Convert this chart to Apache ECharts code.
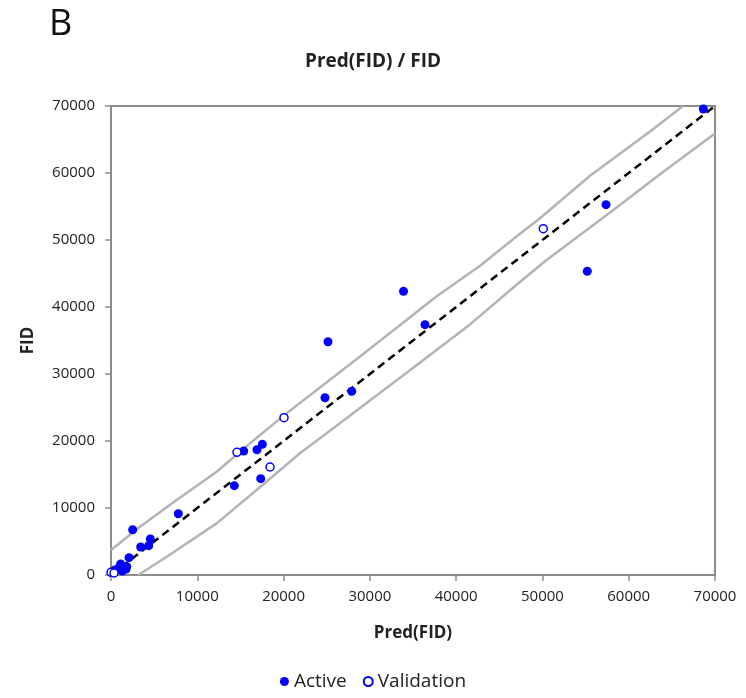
<!DOCTYPE html>
<html>
<head>
<meta charset="utf-8">
<script src="https://cdn.jsdelivr.net/npm/echarts@6/dist/echarts.min.js"></script>
<style>
  html, body { margin: 0; padding: 0; background: #fff; }
  #chart { width: 746px; height: 698px; }
</style>
</head>
<body>
<div id="chart"></div>
<script>
// 数据: [Pred(FID), FID]
const activePoints = [
  [68650, 69550], [57370, 55270], [55200, 45330], [33900, 42340], [36390, 37360],
  [25150, 34820], [27900, 27420], [24800, 26460], [17540, 19500], [16920, 18700],
  [15380, 18510], [17350, 14380], [14290, 13330], [7800, 9150], [2510, 6760],
  [4560, 5370], [4370, 4380], [3440, 4180], [2090, 2590], [1120, 1640],
  [1820, 1240], [1740, 900], [850, 1000], [460, 750], [270, 500], [1310, 600]
];
const validationPoints = [
  [50100, 51690], [20050, 23480], [14600, 18310], [18430, 16120], [0, 400], [350, 300]
];
// 置信带 upper / lower
const upperBand = [
  [0, 3730], [3360, 7210], [7610, 11190], [12240, 15420], [16110, 19650],
  [20360, 24130], [28860, 32600], [37750, 41600], [42770, 46160], [47210, 50750],
  [49720, 53240], [55520, 59600], [62470, 66200], [66300, 70000]
];
const lowerBand = [
  [3160, 0], [6460, 2730], [12240, 7710], [16880, 12690], [21900, 18160],
  [24220, 20400], [33880, 29800], [41610, 37400], [47210, 43540], [50490, 47010],
  [58220, 54480], [64010, 60190], [70000, 65900]
];
const identityLine = [[0, 0], [70000, 70000]];
const axisTicks = [0, 10000, 20000, 30000, 40000, 50000, 60000, 70000];

const blue = '#0000ff';
const axisGray = '#8c8c8c';
const font = 'Open Sans';

const chart = echarts.init(document.getElementById('chart'));

const axisCommon = {
  type: 'value',
  min: axisTicks[0],
  max: axisTicks[axisTicks.length - 1],
  interval: axisTicks[1] - axisTicks[0],
  splitLine: { show: false },
  axisLine: { show: true, onZero: false, lineStyle: { color: axisGray, width: 2 } },
  axisTick: { show: true, length: 6, lineStyle: { color: axisGray, width: 1.5 } },
  axisLabel: {
    color: '#222', fontSize: 15, fontFamily: font,
    formatter: function (val) { return String(val); }
  },
  nameTextStyle: { color: '#222', fontSize: 17, fontWeight: 'bold', fontFamily: font }
};

chart.setOption({
  animation: false,
  backgroundColor: '#fff',
  title: [
    {
      text: 'B', left: 44, top: 2,
      textStyle: { fontSize: 36, fontWeight: 'normal', color: '#111', fontFamily: font }
    },
    {
      text: 'Pred(FID) / FID', left: 'center', top: 47,
      textStyle: { fontSize: 19, fontWeight: 'bold', color: '#222', fontFamily: font }
    }
  ],
  grid: {
    left: 111, right: 31, top: 106, bottom: 123,
    show: true, borderColor: axisGray, borderWidth: 2, backgroundColor: '#fff'
  },
  legend: {
    bottom: 2,
    left: 'center',
    itemWidth: 9,
    itemHeight: 9,
    itemGap: 16,
    textStyle: { fontSize: 19, color: '#222', fontFamily: font },
    data: [{ name: 'Active', icon: 'circle' }, { name: 'Validation', icon: 'circle' }]
  },
  xAxis: Object.assign({}, axisCommon, {
    name: 'Pred(FID)', nameLocation: 'middle', nameGap: 50,
    axisLabel: Object.assign({}, axisCommon.axisLabel, { margin: 14 })
  }),
  yAxis: Object.assign({}, axisCommon, {
    name: 'FID', nameLocation: 'middle', nameGap: 74,
    axisLabel: Object.assign({}, axisCommon.axisLabel, { margin: 16 })
  }),
  series: [
    {
      name: 'upper', type: 'line', data: upperBand, showSymbol: false, silent: true,
      lineStyle: { color: '#b4b4b4', width: 2.5 }, z: 1
    },
    {
      name: 'lower', type: 'line', data: lowerBand, showSymbol: false, silent: true,
      lineStyle: { color: '#b4b4b4', width: 2.5 }, z: 1
    },
    {
      name: 'identity', type: 'line', data: identityLine, showSymbol: false, silent: true,
      lineStyle: { color: '#000', width: 2.5, type: [8, 5] }, z: 2
    },
    {
      name: 'Active', type: 'scatter', data: activePoints,
      symbol: 'circle', symbolSize: 9,
      itemStyle: { color: blue, opacity: 1 }, z: 3
    },
    {
      name: 'Validation', type: 'scatter', data: validationPoints,
      symbol: 'circle', symbolSize: 8,
      itemStyle: { color: '#fff', borderColor: blue, borderWidth: 1.5, opacity: 1 }, z: 4
    }
  ]
});
</script>
</body>
</html>
